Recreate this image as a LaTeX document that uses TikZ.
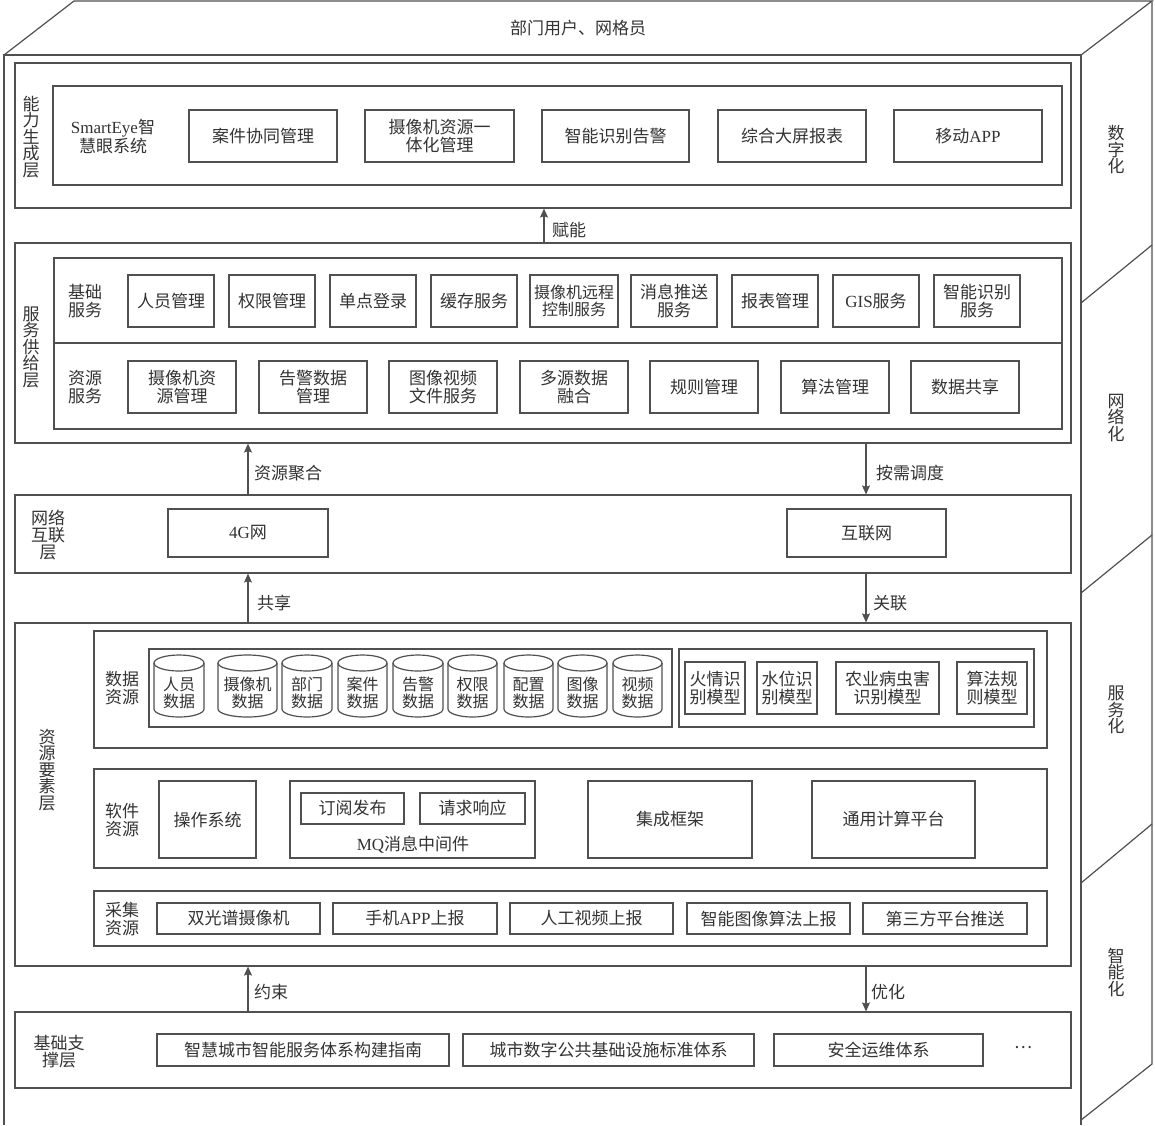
\documentclass[tikz,border=0pt]{standalone}
\usepackage{fontspec}
\setmainfont{Noto Sans CJK SC}
\newfontfamily\latf{Liberation Serif}
\usetikzlibrary{arrows.meta}
\definecolor{lc}{HTML}{505050}
\definecolor{tc}{HTML}{333333}
\newcommand\tfnt{\fontsize{17}{17.5}\selectfont}
\newcommand\vfnt{\fontsize{17}{16.5}\selectfont}
\newcommand\cfnt{\fontsize{16}{17}\selectfont}
\tikzset{
  ln/.style={draw=lc, line width=1.2pt},
  box/.style={ln, fill=white, align=center, inner sep=0pt, font=\tfnt, text=tc},
  lbl/.style={align=center, inner sep=0pt, font=\tfnt, text=tc},
  vlbl/.style={lbl, font=\vfnt},
  arr/.style={ln, -{Stealth[length=9pt,width=8pt,inset=1.5pt]}},
}
\newcommand\mkbox[6]{\node[box,minimum width={(#4-#2)*1pt},minimum height={(#5-#3)*1pt}] (#1) at ({(#2+#4)/2},{(#3+#5)/2}) {#6};}
\newcommand\mkcyl[4]{%
  \draw[ln, fill=white] (#2,663) -- (#2,709)
    arc[start angle=180,end angle=360,x radius={(#3-#2)/2*1pt},y radius=8pt] -- (#3,663)
    arc[start angle=0,end angle=180,x radius={(#3-#2)/2*1pt},y radius=8pt] -- cycle;
  \draw[ln] (#2,663) arc[start angle=180,end angle=360,x radius={(#3-#2)/2*1pt},y radius=8pt];
  \node[lbl, font=\cfnt] (#1) at ({(#2+#3)/2},693) {#4};}
\begin{document}
\begin{tikzpicture}[x=1pt,y=-1pt]
\useasboundingbox (0,0) rectangle (1155,1125);
% 3D frame
\draw[ln] (4,1125) -- (4,55) -- (1081,55) -- (1081,1125);
\draw[ln] (4,55) -- (74,1) -- (1152,1) -- (1081,55);
\draw[ln] (1152,1) -- (1152,1064) -- (1081,1120);
\draw[ln] (1081,303) -- (1152,245);
\draw[ln] (1081,593) -- (1152,535);
\draw[ln] (1081,883) -- (1152,824);
\node[lbl] (top) at (578,28) {部门用户、网格员};
\node[vlbl] (r1) at (1116,150) {数\\字\\化};
\node[vlbl] (r2) at (1116,418) {网\\络\\化};
\node[vlbl] (r3) at (1116,710) {服\\务\\化};
\node[vlbl] (r4) at (1116,972) {智\\能\\化};

% capability layer
\mkbox{cap}{15}{63}{1071}{208}{}
\mkbox{capin}{53}{86}{1062}{185}{}
\node[vlbl] (capl) at (31,137) {能\\力\\生\\成\\层};
\node[lbl] (se) at (113,137) {{\latf SmartEye}智\\慧眼系统};
\mkbox{c1}{189}{110}{337}{162}{案件协同管理}
\mkbox{c2}{365}{110}{514}{162}{摄像机资源一\\体化管理}
\mkbox{c3}{542}{110}{689}{162}{智能识别告警}
\mkbox{c4}{718}{110}{866}{162}{综合大屏报表}
\mkbox{c5}{894}{110}{1042}{162}{移动{\latf APP}}

% service layer
\mkbox{svc}{15}{243}{1071}{443}{}
\mkbox{svcA}{54}{258}{1062}{343}{}
\mkbox{svcB}{54}{343}{1062}{429}{}
\node[vlbl] (svcl) at (31,347) {服\\务\\供\\给\\层};
\node[lbl] (jc) at (85,301) {基础\\服务};
\node[lbl] (zy) at (85,387) {资源\\服务};
\mkbox{s1}{128}{275}{214}{327}{人员管理}
\mkbox{s2}{229}{275}{315}{327}{权限管理}
\mkbox{s3}{330}{275}{416}{327}{单点登录}
\mkbox{s4}{431}{275}{517}{327}{缓存服务}
\node[box,minimum width=88pt,minimum height=52pt,font=\fontsize{16}{17}\selectfont] (s5) at (574,301) {摄像机远程\\控制服务};
\mkbox{s6}{631}{275}{717}{327}{消息推送\\服务}
\mkbox{s7}{732}{275}{818}{327}{报表管理}
\mkbox{s8}{833}{275}{919}{327}{{\latf GIS}服务}
\mkbox{s9}{934}{275}{1020}{327}{智能识别\\服务}
\mkbox{t1}{128}{361}{236}{413}{摄像机资\\源管理}
\mkbox{t2}{259}{361}{367}{413}{告警数据\\管理}
\mkbox{t3}{389}{361}{497}{413}{图像视频\\文件服务}
\mkbox{t4}{520}{361}{628}{413}{多源数据\\融合}
\mkbox{t5}{650}{361}{758}{413}{规则管理}
\mkbox{t6}{781}{361}{889}{413}{算法管理}
\mkbox{t7}{911}{361}{1019}{413}{数据共享}

% network layer
\mkbox{net}{15}{495}{1071}{573}{}
\node[lbl, font=\fontsize{17}{17}\selectfont] (netl) at (48,535) {网络\\互联\\层};
\mkbox{n1}{168}{509}{328}{557}{{\latf 4G}网}
\mkbox{n2}{787}{509}{946}{557}{互联网}

% resource layer
\mkbox{res}{15}{623}{1071}{966}{}
\node[vlbl] (resl) at (47,770) {资\\源\\要\\素\\层};
\mkbox{dat}{94}{631}{1047}{748}{}
\node[lbl] (datl) at (122,688) {数据\\资源};
\mkbox{cylg}{149}{649}{672}{727}{}
\mkbox{mdlg}{679}{649}{1034}{727}{}
\mkcyl{d1}{154}{204}{人员\\数据}
\mkcyl{d2}{218}{277}{摄像机\\数据}
\mkcyl{d3}{282}{332}{部门\\数据}
\mkcyl{d4}{338}{387}{案件\\数据}
\mkcyl{d5}{393}{443}{告警\\数据}
\mkcyl{d6}{448}{497}{权限\\数据}
\mkcyl{d7}{504}{553}{配置\\数据}
\mkcyl{d8}{558}{607}{图像\\数据}
\mkcyl{d9}{613}{662}{视频\\数据}
\mkbox{m1}{685}{662}{745}{714}{火情识\\别模型}
\mkbox{m2}{757}{662}{817}{714}{水位识\\别模型}
\mkbox{m3}{836}{662}{939}{714}{农业病虫害\\识别模型}
\mkbox{m4}{957}{662}{1027}{714}{算法规\\则模型}

\mkbox{sw}{94}{769}{1047}{868}{}
\node[lbl] (swl) at (122,820) {软件\\资源};
\mkbox{os}{159}{781}{256}{858}{操作系统}
\mkbox{mq}{290}{781}{535}{858}{}
\mkbox{mq1}{301}{793}{404}{824}{订阅发布}
\mkbox{mq2}{420}{793}{525}{824}{请求响应}
\node[lbl] (mql) at (413,845) {{\latf MQ}消息中间件};
\mkbox{fw}{588}{781}{752}{858}{集成框架}
\mkbox{cp}{812}{781}{975}{858}{通用计算平台}

\mkbox{col}{94}{891}{1047}{946}{}
\node[lbl] (coll) at (122,919) {采集\\资源};
\mkbox{g1}{157}{903}{320}{934}{双光谱摄像机}
\mkbox{g2}{333}{903}{497}{934}{手机{\latf APP}上报}
\mkbox{g3}{510}{903}{673}{934}{人工视频上报}
\mkbox{g4}{687}{903}{850}{934}{智能图像算法上报}
\mkbox{g5}{863}{903}{1027}{934}{第三方平台推送}

% base layer
\mkbox{base}{15}{1012}{1071}{1088}{}
\node[lbl, font=\fontsize{17}{17}\selectfont] (basel) at (59,1052) {基础支\\撑层};
\mkbox{b1}{157}{1034}{449}{1066}{智慧城市智能服务体系构建指南}
\mkbox{b2}{463}{1034}{754}{1066}{城市数字公共基础设施标准体系}
\mkbox{b3}{774}{1034}{983}{1066}{安全运维体系}
\node[lbl] (dots) at (1023,1048) {…};

% arrows
\coordinate (xa) at (544,0);
\coordinate (xl) at (248,0);
\coordinate (xr) at (866,0);
\draw[arr] (xa |- svc.north) -- (xa |- cap.south);
\draw[arr] (xl |- net.north) -- (xl |- svc.south);
\draw[arr] (xr |- svc.south) -- (xr |- net.north);
\draw[arr] (xl |- res.north) -- (xl |- net.south);
\draw[arr] (xr |- net.south) -- (xr |- res.north);
\draw[arr] (xl |- base.north) -- (xl |- res.south);
\draw[arr] (xr |- res.south) -- (xr |- base.north);
\node[lbl, anchor=west] (lfn) at (552,230) {赋能};
\node[lbl, anchor=west] (lzy) at (254,473) {资源聚合};
\node[lbl, anchor=west] (lax) at (876,473) {按需调度};
\node[lbl, anchor=west] (lgx) at (257,603) {共享};
\node[lbl, anchor=west] (lgl) at (873,603) {关联};
\node[lbl, anchor=west] (lys) at (254,992) {约束};
\node[lbl, anchor=west] (lyh) at (871,992) {优化};
\end{tikzpicture}
\end{document}
